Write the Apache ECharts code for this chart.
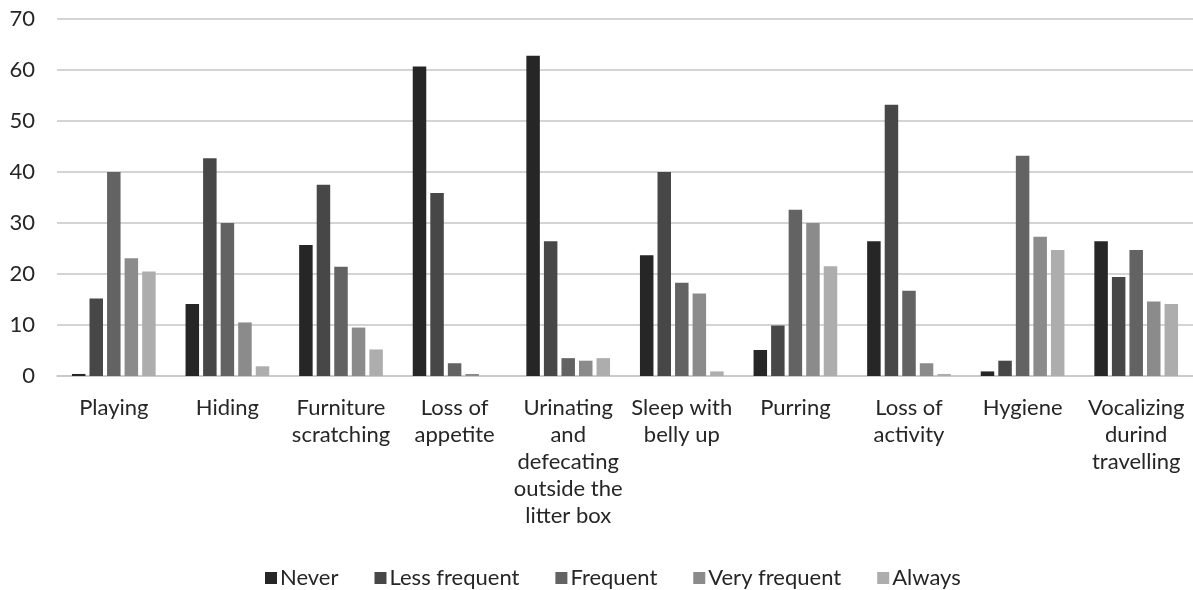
<!DOCTYPE html>
<html>
<head>
<meta charset="utf-8">
<script src="https://cdn.jsdelivr.net/npm/echarts@6/dist/echarts.min.js"></script>
<style>
  html, body { margin: 0; padding: 0; background: #ffffff; }
  #chart { width: 1193px; height: 590px; }
</style>
</head>
<body>
<div id="chart"></div>
<script>
// Behaviour categories (x axis tick labels, wrapped as printed)
const categories = [
  'Playing',
  'Hiding',
  'Furniture\nscratching',
  'Loss of\nappetite',
  'Urinating\nand\ndefecating\noutside the\nlitter box',
  'Sleep with\nbelly up',
  'Purring',
  'Loss of\nactivity',
  'Hygiene',
  'Vocalizing\ndurind\ntravelling'
];

// Frequency answers (%) per behaviour
const never        = [0.4, 14.1, 25.7, 60.7, 62.8, 23.7,  5.1, 26.4,  0.9, 26.4];
const lessFrequent = [15.2, 42.7, 37.5, 35.9, 26.4, 40.0,  9.9, 53.2,  3.0, 19.4];
const frequent     = [40.0, 30.0, 21.4,  2.5,  3.5, 18.3, 32.6, 16.7, 43.2, 24.7];
const veryFrequent = [23.1, 10.5,  9.5,  0.4,  3.0, 16.2, 30.0,  2.5, 27.3, 14.6];
const always       = [20.5,  1.9,  5.2,  0.0,  3.5,  0.9, 21.5,  0.4, 24.7, 14.1];

const seriesNames = ['Never', 'Less frequent', 'Frequent', 'Very frequent', 'Always'];
const seriesData = [never, lessFrequent, frequent, veryFrequent, always];
const seriesColors = ['#262626', '#474747', '#636363', '#8b8b8b', '#adadad'];

const yTicks = [0, 10, 20, 30, 40, 50, 60, 70];

const FONT = 'Lato, "Open Sans", sans-serif';
const TEXT = '#262626';

const chart = echarts.init(document.getElementById('chart'), null, { renderer: 'canvas' });

chart.setOption({
  backgroundColor: '#ffffff',
  animation: false,
  grid: { left: 57, right: -2, top: 19, bottom: 214, containLabel: false },
  legend: {
    data: seriesNames,
    top: 562,
    left: 260,
    itemWidth: 12,
    itemHeight: 12,
    itemGap: 36,
    icon: 'rect',
    textStyle: { fontFamily: FONT, fontSize: 22, color: TEXT, padding: [0, 0, 0, -2] }
  },
  xAxis: {
    type: 'category',
    data: categories,
    axisLine: { show: true, lineStyle: { color: '#c6c6c6', width: 1.5 } },
    axisTick: { show: false },
    axisLabel: {
      interval: 0,
      margin: 18,
      fontFamily: FONT,
      fontSize: 22,
      lineHeight: 27,
      color: TEXT,
      align: 'center'
    }
  },
  yAxis: {
    type: 'value',
    min: yTicks[0],
    max: yTicks[yTicks.length - 1],
    interval: 10,
    axisLine: { show: false },
    axisTick: { show: false },
    splitLine: { lineStyle: { color: '#c6c6c6', width: 1.5 } },
    axisLabel: {
      margin: 22,
      fontFamily: FONT,
      fontSize: 22,
      color: TEXT
    }
  },
  series: seriesNames.map((name, i) => ({
    name: name,
    type: 'bar',
    data: seriesData[i],
    barWidth: 13.5,
    barGap: '30%',
    itemStyle: { color: seriesColors[i] }
  }))
});
</script>
</body>
</html>
